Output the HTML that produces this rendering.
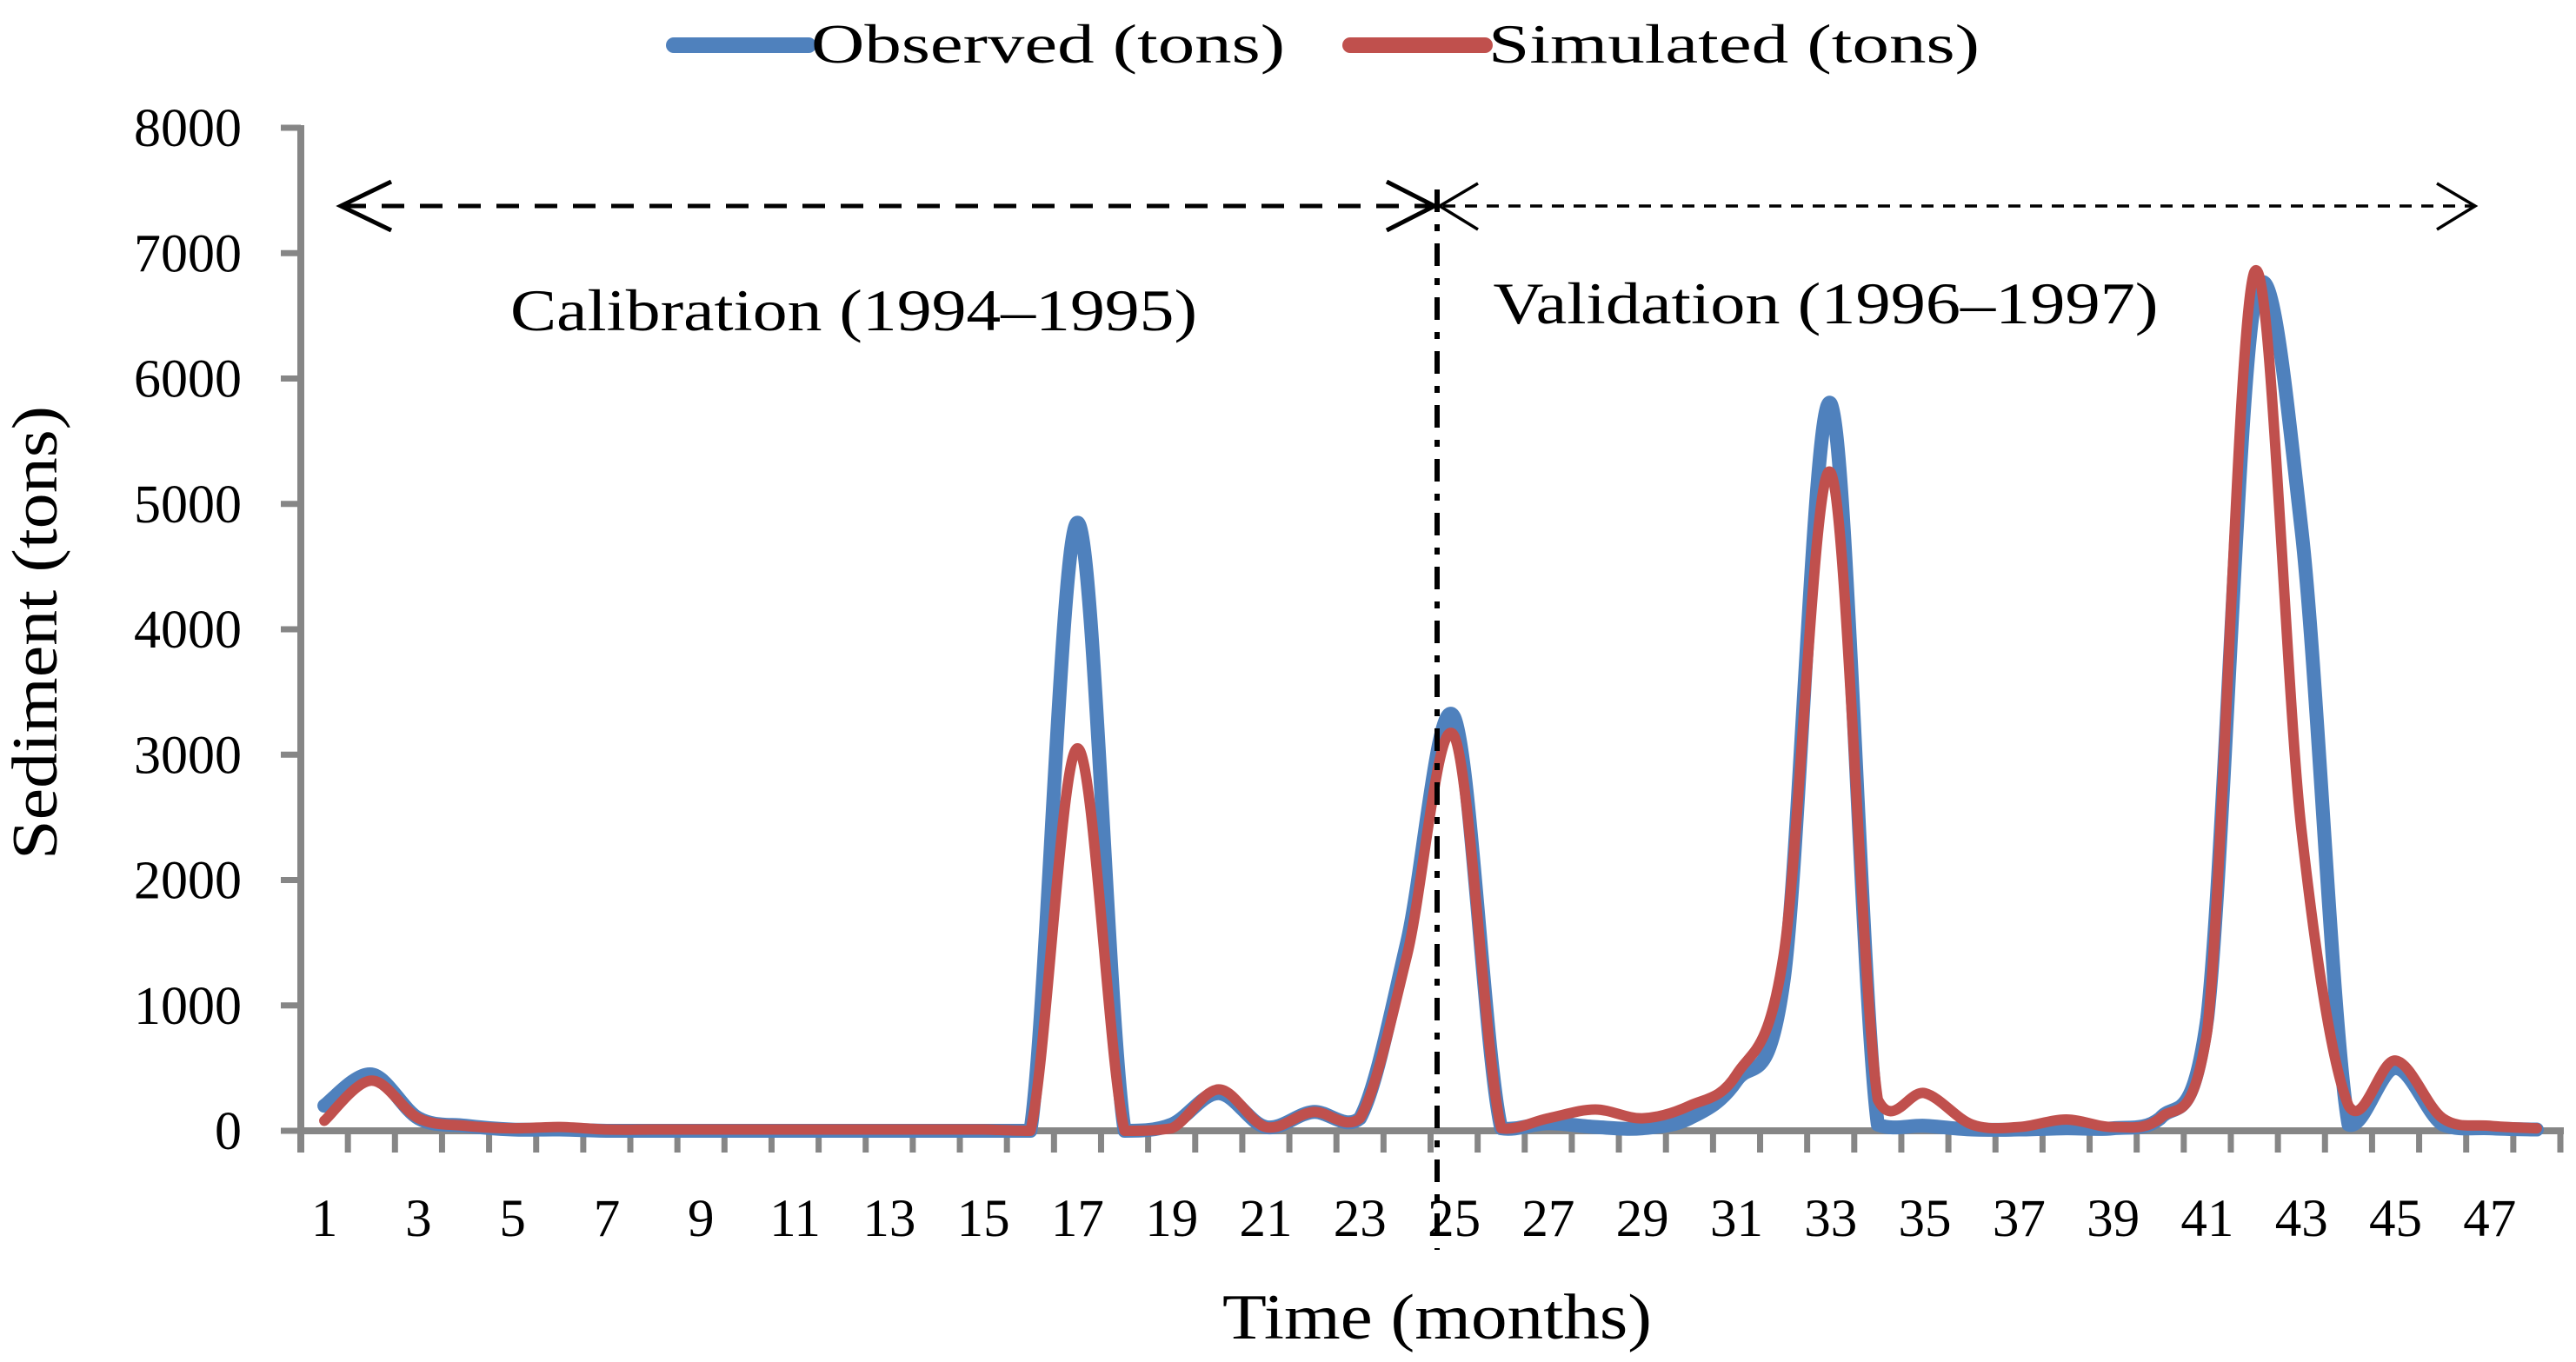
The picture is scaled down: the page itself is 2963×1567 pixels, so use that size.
<!DOCTYPE html>
<html><head><meta charset="utf-8"><style>
html,body{margin:0;padding:0;background:#fff}
svg{display:block}
text{font-family:"Liberation Serif",serif;fill:#000}
</style></head><body>
<svg id="chart" width="2963" height="1567" viewBox="0 0 2963 1567" xmlns="http://www.w3.org/2000/svg">
<g id="legend">
  <g>
    <line x1="775" y1="52" x2="930" y2="52" stroke="#4F81BD" stroke-width="18" stroke-linecap="round"/>
    <text x="933" y="72" font-size="64" textLength="545" lengthAdjust="spacingAndGlyphs">Observed (tons)</text>
  </g>
  <g>
    <line x1="1553" y1="52" x2="1708" y2="52" stroke="#C0504D" stroke-width="18" stroke-linecap="round"/>
    <text x="1712" y="72" font-size="64" textLength="565" lengthAdjust="spacingAndGlyphs">Simulated (tons)</text>
  </g>
</g>
<g id="axes"></g>
<g id="series"></g>
<g id="annot">
  <line x1="395" y1="237" x2="1648" y2="237" stroke="#000" stroke-width="5" stroke-dasharray="26,18"/>
  <polyline points="450,209 392,237 450,265" fill="none" stroke="#000" stroke-width="5"/>
  <polyline points="1595,209 1650,237 1595,265" fill="none" stroke="#000" stroke-width="5"/>
  <line x1="1660" y1="237" x2="2845" y2="237" stroke="#000" stroke-width="3.5" stroke-dasharray="14,11"/>
  <polyline points="1700,211 1656,237 1700,264" fill="none" stroke="#000" stroke-width="3.5"/>
  <polyline points="2803,211 2847,237 2803,264" fill="none" stroke="#000" stroke-width="3.5"/>
  <line x1="1653" y1="218" x2="1653" y2="1438" stroke="#000" stroke-width="6" stroke-dasharray="26,14,8,14"/>
  <text x="982" y="380" font-size="68" text-anchor="middle" textLength="790" lengthAdjust="spacingAndGlyphs">Calibration (1994–1995)</text>
  <text x="2100" y="372" font-size="68" text-anchor="middle" textLength="765" lengthAdjust="spacingAndGlyphs">Validation (1996–1997)</text>
</g>
<text x="1653" y="1540" font-size="74" text-anchor="middle" textLength="494" lengthAdjust="spacingAndGlyphs">Time (months)</text>
<text x="0" y="0" font-size="74" text-anchor="middle" textLength="522" lengthAdjust="spacingAndGlyphs" transform="translate(65,728) rotate(-90)">Sediment (tons)</text>
</svg>
<script>
const months = Array.from({length:48},(_,i)=>i+1);
const observed = [200,450,100,40,10,10,0,0,0,0,0,0,0,0,0,0,4850,0,50,300,30,150,100,1500,3300,20,60,30,20,100,400,1200,5800,50,40,10,10,20,20,100,900,6600,4800,50,500,50,20,10];
const simulated = [80,400,100,40,20,30,10,10,10,10,10,10,10,10,10,0,3050,0,20,330,30,150,100,1400,3150,20,100,170,100,200,450,1400,5250,250,300,50,30,90,30,100,800,6850,2400,200,560,100,40,20];
const yTicks = [0,1000,2000,3000,4000,5000,6000,7000,8000];
const yTickLabels = ["0","1000","2000","3000","4000","5000","6000","7000","8000"];

const NS="http://www.w3.org/2000/svg";
const X0=346, X1=2945, Y0=1301, YTOP=147, YMAX=8000;
const bw=(X1-X0)/months.length;
const xs=i=>X0+(i+0.5)*bw;
const ys=v=>Y0-(v/YMAX)*(Y0-YTOP);
function mk(tag,attrs,parent){const e=document.createElementNS(NS,tag);for(const k in attrs)e.setAttribute(k,attrs[k]);parent.appendChild(e);return e;}
const axes=document.getElementById('axes');
const gray="#868686";
yTicks.forEach((v,i)=>{
  const t=mk('line',{x1:X0-23,x2:X0,y1:ys(v),y2:ys(v),stroke:gray,'stroke-width':7},axes);
  
  
  const l=mk('text',{x:278,y:ys(v)+21,'font-size':62,'text-anchor':'end'},axes);
  l.textContent=yTickLabels[i];
  
  
});
const ya=mk('line',{x1:X0,x2:X0,y1:YTOP-3,y2:Y0+25,stroke:gray,'stroke-width':8},axes);


const xa=mk('line',{x1:X0,x2:X1+4,y1:Y0,y2:Y0,stroke:gray,'stroke-width':8},axes);


for(let i=0;i<=months.length;i++){
  const t=mk('line',{x1:X0+i*bw,x2:X0+i*bw,y1:Y0,y2:Y0+25,stroke:gray,'stroke-width':7},axes);
  
  
}
months.forEach((m,i)=>{
  if(m%2===0) return;
  const l=mk('text',{x:xs(i),y:1422,'font-size':61,'text-anchor':'middle'},axes);
  l.textContent=String(m);
  
  
});
function smooth(vals){
  const p=vals.map((v,i)=>[xs(i),ys(v)]);
  const cl=y=>Math.min(y,Y0);
  let d=`M${p[0][0]},${p[0][1]}`;
  for(let i=0;i<p.length-1;i++){
    const a=p[i-1]||p[i], b=p[i], c=p[i+1], e=p[i+2]||c;
    const t=1/6;
    d+=` C${b[0]+(c[0]-a[0])*t},${cl(b[1]+(c[1]-a[1])*t)} ${c[0]-(e[0]-b[0])*t},${cl(c[1]-(e[1]-b[1])*t)} ${c[0]},${c[1]}`;
  }
  return d;
}
const sg=document.getElementById('series');
const po=mk('path',{d:smooth(observed),fill:'none',stroke:'#4F81BD','stroke-width':16,'stroke-linejoin':'round','stroke-linecap':'round'},sg);


const ps=mk('path',{d:smooth(simulated),fill:'none',stroke:'#C0504D','stroke-width':12,'stroke-linejoin':'round','stroke-linecap':'round'},sg);


</script>
</body></html>
